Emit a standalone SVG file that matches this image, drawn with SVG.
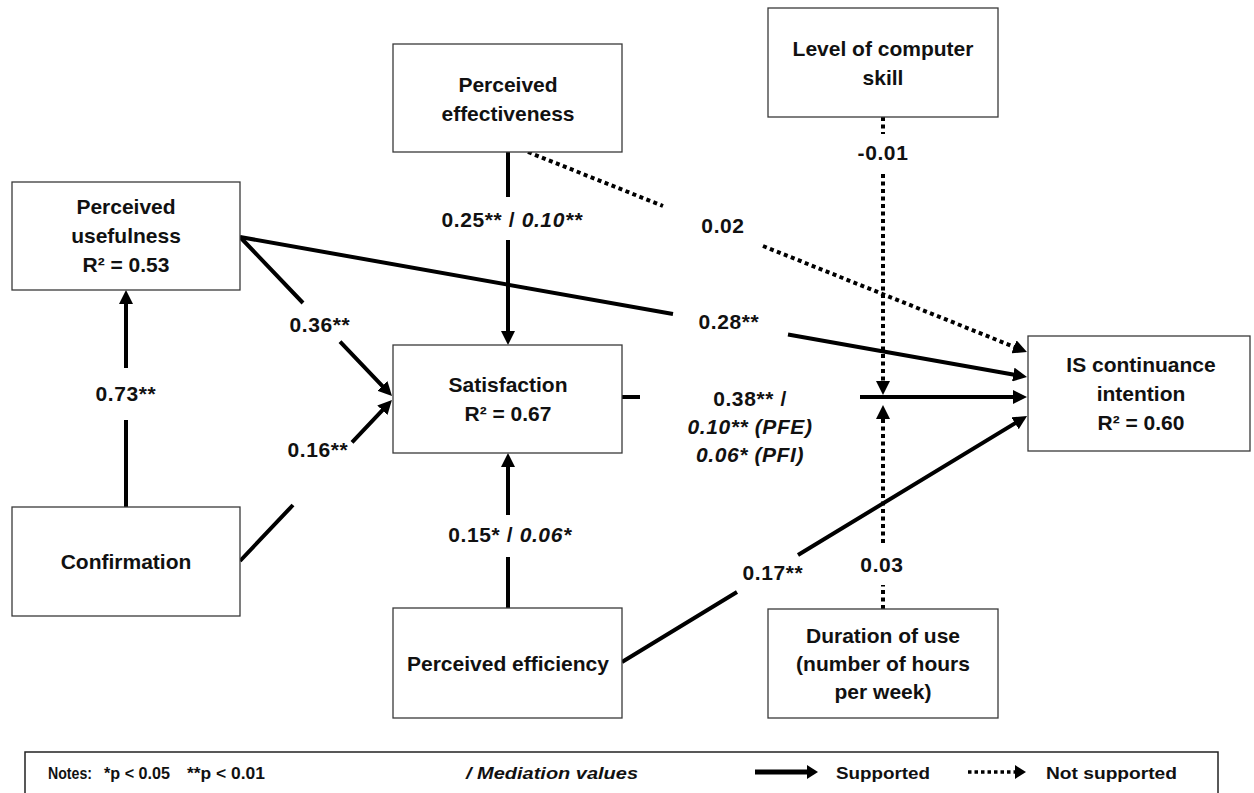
<svg xmlns="http://www.w3.org/2000/svg" width="1254" height="793" viewBox="0 0 1254 793">
<style>
.box{fill:#fff;stroke:#3a3a3a;stroke-width:1.3}
.t{font-family:"Liberation Sans",Arial,sans-serif;font-weight:bold;font-size:21px;fill:#111;text-anchor:middle}
.lb{font-family:"Liberation Sans",Arial,sans-serif;font-weight:bold;font-size:21px;letter-spacing:0.6px;fill:#111;text-anchor:middle}
.it{font-style:italic}
.sol{fill:none;stroke:#000;stroke-width:4;marker-end:url(#ah)}
.dot{fill:none;stroke:#000;stroke-width:4;stroke-dasharray:4 3.5;marker-end:url(#ah)}
.lg{font-family:"Liberation Sans",Arial,sans-serif;font-weight:bold;font-size:17px;fill:#111}
</style>
<defs>
<marker id="ah" markerUnits="userSpaceOnUse" markerWidth="16" markerHeight="14" refX="4" refY="7" orient="auto">
<path d="M0,0 L14,7 L0,14 z" fill="#000"/>
</marker>
<marker id="ahs" markerUnits="userSpaceOnUse" markerWidth="12" markerHeight="14" refX="3" refY="7" orient="auto">
<path d="M0,0 L11,7 L0,14 z" fill="#000"/>
</marker>
</defs>
<rect width="1254" height="793" fill="#fff"/>

<g id="connectors">
<path class="sol" d="M126,507 L126,420 M126,368 L126,300"/>
<path class="sol" d="M240,237 L303,303 M340,341.6 L385.1,388.8"/>
<path class="sol" d="M240,561 L293,505 M352,442.4 L385.1,407.3"/>
<path class="sol" d="M240,237 L673,314 M788,334.5 L1017.2,375.2"/>
<path class="dot" d="M528,152 L663,206 M763,246 L1017.7,348.3"/>
<path class="sol" d="M508,152 L508,197 M508,240 L508,335"/>
<path class="sol" d="M622,397 L640,397 M860,397 L1017,397"/>
<path class="sol" d="M508,608 L508,557 M508,515 L508,463"/>
<path class="sol" d="M622,662 L737,592 M798,555 L1018.5,421.2"/>
<path class="dot" d="M883,117 L883,134 M883,174 L883,385"/>
<path class="dot" d="M883,609 L883,585 M883,543 L883,415"/>
<text class="lb" x="126" y="401">0.73**</text>
<text class="lb" x="320" y="332">0.36**</text>
<text class="lb" x="318" y="457">0.16**</text>
<text class="lb" x="729" y="329">0.28**</text>
<text class="lb" x="723" y="233">0.02</text>
<text class="lb" x="512" y="227">0.25** / <tspan class="it">0.10**</tspan></text>
<text class="lb" x="750" y="406">0.38** /</text>
<text class="lb it" x="750" y="434">0.10** (PFE)</text>
<text class="lb it" x="750" y="462">0.06* (PFI)</text>
<text class="lb" x="510" y="542">0.15* / <tspan class="it">0.06*</tspan></text>
<text class="lb" x="773" y="580">0.17**</text>
<text class="lb" x="883" y="160">-0.01</text>
<text class="lb" x="882" y="572">0.03</text>
</g>

<g id="perceived-usefulness">
<rect class="box" x="12" y="182" width="228" height="108"/>
<text class="t" x="126" y="214">Perceived</text>
<text class="t" x="126" y="243">usefulness</text>
<text class="t" x="126" y="272">R² = 0.53</text>
</g>
<g id="perceived-effectiveness">
<rect class="box" x="393" y="44" width="229" height="108"/>
<text class="t" x="508" y="92">Perceived</text>
<text class="t" x="508" y="121">effectiveness</text>
</g>
<g id="computer-skill">
<rect class="box" x="768" y="8" width="230" height="109"/>
<text class="t" x="883" y="56">Level of computer</text>
<text class="t" x="883" y="85">skill</text>
</g>
<g id="satisfaction">
<rect class="box" x="393" y="345" width="229" height="108"/>
<text class="t" x="508" y="392">Satisfaction</text>
<text class="t" x="508" y="421">R² = 0.67</text>
</g>
<g id="is-continuance">
<rect class="box" x="1028" y="336" width="222" height="115"/>
<text class="t" x="1141" y="372">IS continuance</text>
<text class="t" x="1141" y="401">intention</text>
<text class="t" x="1141" y="430">R² = 0.60</text>
</g>
<g id="confirmation">
<rect class="box" x="12" y="507" width="228" height="109"/>
<text class="t" x="126" y="569">Confirmation</text>
</g>
<g id="perceived-efficiency">
<rect class="box" x="393" y="608" width="229" height="110"/>
<text class="t" x="508" y="671">Perceived efficiency</text>
</g>
<g id="duration-of-use">
<rect class="box" x="768" y="609" width="230" height="109"/>
<text class="t" x="883" y="643">Duration of use</text>
<text class="t" x="883" y="671">(number of hours</text>
<text class="t" x="883" y="699">per week)</text>
</g>

<g id="legend">
<rect x="25" y="752" width="1193" height="60" fill="#fff" stroke="#222" stroke-width="1.5"/>
<text class="lg" x="48" y="779" textLength="44" lengthAdjust="spacingAndGlyphs">Notes:</text>
<text class="lg" x="104" y="779" textLength="66" lengthAdjust="spacingAndGlyphs">*p &lt; 0.05</text>
<text class="lg" x="187" y="779" textLength="78" lengthAdjust="spacingAndGlyphs">**p &lt; 0.01</text>
<text class="lg" x="466" y="779" font-style="italic" textLength="172" lengthAdjust="spacingAndGlyphs">/ Mediation values</text>
<path d="M755,772 L810,772" stroke="#000" stroke-width="5" fill="none" marker-end="url(#ahs)"/>
<text class="lg" x="836" y="779" textLength="94" lengthAdjust="spacingAndGlyphs">Supported</text>
<path d="M968,772 L1018,772" stroke="#000" stroke-width="3.5" stroke-dasharray="3.5 3" fill="none" marker-end="url(#ahs)"/>
<text class="lg" x="1046" y="779" textLength="131" lengthAdjust="spacingAndGlyphs">Not supported</text>
</g>
</svg>
